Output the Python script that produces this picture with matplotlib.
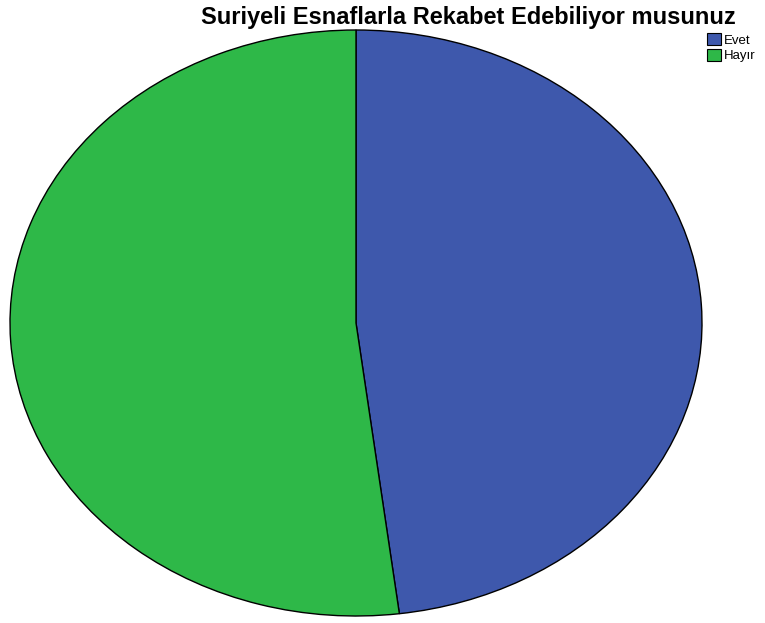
import matplotlib.pyplot as plt

plt.rcParams['font.family'] = ['Liberation Sans', 'DejaVu Sans']

labels = ['Evet', 'Hayır']
values = [48.0, 52.0]
colors = ['#3e58ac', '#2eb848']

fig = plt.figure(figsize=(7.65, 6.23), dpi=100)
ax = fig.add_axes([10 / 765, 7 / 623, 692 / 765, 586 / 623])

wedges, _ = ax.pie(values, colors=colors, startangle=90, counterclock=False,
                   wedgeprops=dict(edgecolor='black', linewidth=1.0))
ax.set_aspect('auto')
ax.set_xlim(-1.0, 1.0)
ax.set_ylim(-1.0, 1.0)

fig.text(0.612, 0.99, 'Suriyeli Esnaflarla Rekabet Edebiliyor musunuz',
         ha='center', va='top', fontsize=17, fontweight='bold')

leg = fig.legend(wedges, labels, loc='upper left', bbox_to_anchor=(0.9245, 0.947),
                 frameon=False, fontsize=9.5, handlelength=1.05, handleheight=1.05,
                 handletextpad=0.2, labelspacing=0.15, borderaxespad=0.0,
                 borderpad=0.0)
for h in leg.legend_handles:
    h.set_edgecolor('black')
    h.set_linewidth(0.8)

fig.savefig('out.png', dpi=100)
